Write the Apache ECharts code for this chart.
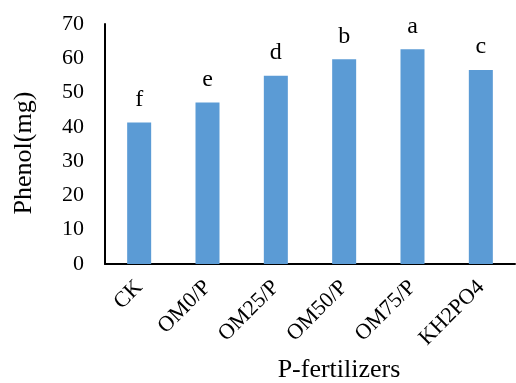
<!DOCTYPE html>
<html>
<head>
<meta charset="utf-8">
<script src="https://cdn.jsdelivr.net/npm/echarts@6/dist/echarts.min.js"></script>
<style>
  html, body { margin: 0; padding: 0; background: #fff; }
  #main { width: 516px; height: 383px; }
</style>
</head>
<body>
<div id="main"></div>
<script>
var categories = ['CK', 'OM0/P', 'OM25/P', 'OM50/P', 'OM75/P', 'KH2PO4'];
var phenol = [41.3, 47.1, 54.9, 59.7, 62.6, 56.6];
var letters = ['f', 'e', 'd', 'b', 'a', 'c'];
var yTicks = [0, 10, 20, 30, 40, 50, 60, 70];

var font = '"Liberation Serif", "Times New Roman", serif';
var chart = echarts.init(document.getElementById('main'));

var option = {
  backgroundColor: '#fff',
  animation: false,
  grid: { left: 105, right: 1, top: 24, bottom: 119, outerBoundsMode: 'none' },
  xAxis: {
    type: 'category',
    data: categories,
    name: 'P-fertilizers',
    nameLocation: 'middle',
    nameGap: 93,
    nameTextStyle: { fontFamily: font, fontSize: 26, color: '#000', padding: [0, 0, 0, 58] },
    axisLine: { lineStyle: { color: '#000', width: 2 } },
    axisTick: { show: false },
    axisLabel: {
      rotate: 45,
      margin: 20,
      fontFamily: font,
      fontSize: 22,
      color: '#000'
    }
  },
  yAxis: {
    type: 'value',
    min: yTicks[0],
    max: yTicks[yTicks.length - 1],
    interval: 10,
    name: 'Phenol(mg)',
    nameLocation: 'middle',
    nameGap: 68,
    nameTextStyle: { fontFamily: font, fontSize: 26, color: '#000', padding: [0, 0, 0, -18] },
    axisLine: { show: true, lineStyle: { color: '#000', width: 2 } },
    axisTick: { show: false },
    splitLine: { show: false },
    axisLabel: {
      margin: 21,
      fontFamily: font,
      fontSize: 22,
      color: '#000'
    }
  },
  series: [{
    type: 'bar',
    data: phenol,
    barWidth: 24,
    itemStyle: { color: '#5B9BD5' },
    label: {
      show: true,
      position: 'top',
      distance: 11,
      fontFamily: font,
      fontSize: 24,
      color: '#000',
      formatter: function (p) { return letters[p.dataIndex]; }
    }
  }]
};
chart.setOption(option);
</script>
</body>
</html>
